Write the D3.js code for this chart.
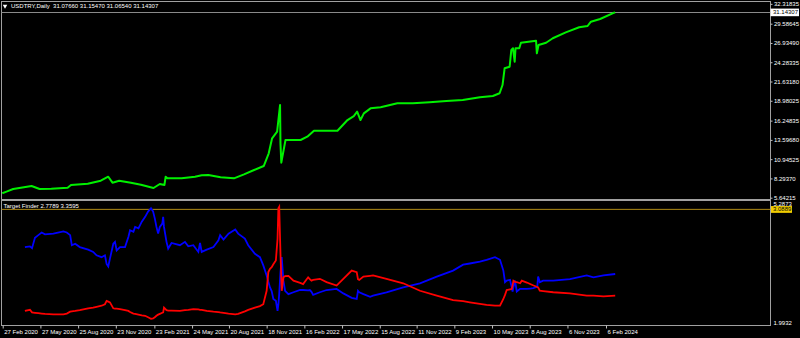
<!DOCTYPE html>
<html>
<head>
<meta charset="utf-8">
<script src="https://cdn.jsdelivr.net/npm/d3@7"></script>
<style>
  html, body { margin: 0; padding: 0; background: #000; }
  svg { display: block; }
  text { font-family: "Liberation Sans", Arial, sans-serif; }
</style>
</head>
<body>
<svg id="chart"></svg>
<script>
// USDTRY daily closes
const priceDates = ['2020-02-26','2020-03-07','2020-03-23','2020-05-06','2020-05-25','2020-06-22','2020-07-31','2020-08-08',
  '2020-09-17','2020-10-18','2020-11-05','2020-11-15','2020-12-01','2020-12-29','2021-01-22','2021-02-21','2021-03-08',
  '2021-03-19','2021-03-22','2021-03-26','2021-04-29','2021-05-31','2021-06-16','2021-07-02','2021-07-31','2021-09-01',
  '2021-09-25','2021-10-19','2021-11-11','2021-11-23','2021-12-01','2021-12-13','2021-12-20','2021-12-21','2021-12-23',
  '2022-01-02','2022-01-14','2022-02-07','2022-02-23','2022-03-11','2022-03-27','2022-05-06','2022-05-30','2022-06-14',
  '2022-06-22','2022-06-30','2022-07-08','2022-07-24','2022-08-17','2022-09-26','2022-11-02','2022-12-12','2023-01-21',
  '2023-03-01','2023-04-11','2023-05-12','2023-05-28','2023-06-04','2023-06-09','2023-06-21','2023-06-25','2023-06-29',
  '2023-07-03','2023-07-05','2023-07-14','2023-07-18','2023-08-23','2023-08-25','2023-08-29','2023-09-16','2023-10-02',
  '2023-11-02','2023-12-04','2023-12-24','2024-01-01','2024-01-23','2024-02-23','2024-02-28'];
const priceValues = [6.25,6.47,6.84,7.25,6.84,6.88,7.02,7.39,
  7.57,7.98,8.53,7.71,7.98,7.71,7.43,6.98,7.53,
  7.39,8.53,8.31,8.31,8.53,8.72,8.77,8.45,8.31,
  8.86,9.45,10.00,11.75,13.82,14.72,18.40,13.13,10.46,
  13.58,13.58,13.58,14.04,14.86,14.86,14.86,16.33,16.88,
  17.48,16.33,17.25,17.94,18.08,18.63,18.63,18.77,18.95,
  19.09,19.46,19.64,20.01,21.15,23.45,23.67,25.97,26.20,
  24.36,26.20,26.20,26.97,27.25,25.51,26.65,26.97,27.58,
  28.40,29.09,29.27,29.86,30.23,31.05,31.14307];
const priceTicks = [32.31835, 29.58645, 26.93490, 24.28335, 21.63180, 18.98025, 16.24835, 13.59680, 10.94525, 8.29370, 5.64215];
const lastPrice = 31.14307;
const priceHeader = 'USDTRY,Daily  31.07660 31.15470 31.06540 31.14307';

// Target Finder indicator (red and blue buffers)
const indDates = ['2020-04-20','2020-05-02','2020-05-07','2020-05-14','2020-05-22','2020-05-30','2020-06-07','2020-06-27',
  '2020-07-21','2020-07-29','2020-08-06','2020-08-10','2020-08-18','2020-08-29','2020-09-18','2020-09-30','2020-10-08',
  '2020-10-20','2020-10-28','2020-11-01','2020-11-05','2020-11-09','2020-11-17','2020-11-21','2020-11-25','2020-12-03',
  '2020-12-15','2020-12-23','2020-12-27','2021-01-04','2021-01-08','2021-01-16','2021-01-24','2021-02-01','2021-02-08',
  '2021-02-15','2021-02-20','2021-02-24','2021-02-28','2021-03-04','2021-03-08','2021-03-14','2021-03-16','2021-03-18',
  '2021-03-24','2021-03-28','2021-04-05','2021-04-25','2021-05-07','2021-05-15','2021-05-27','2021-06-08','2021-06-12',
  '2021-06-16','2021-06-28','2021-07-14','2021-07-26','2021-07-30','2021-08-07','2021-08-19','2021-09-04','2021-09-11',
  '2021-09-27','2021-10-05','2021-10-21','2021-11-02','2021-11-10','2021-11-18','2021-11-22','2021-11-26','2021-11-30',
  '2021-12-04','2021-12-10','2021-12-14','2021-12-16','2021-12-18','2021-12-21','2021-12-24','2021-12-28','2022-01-01',
  '2022-01-09','2022-01-21','2022-02-06','2022-02-13','2022-02-25','2022-03-01','2022-03-05','2022-03-09','2022-03-25',
  '2022-04-10','2022-05-04','2022-05-20','2022-06-09','2022-06-21','2022-06-24','2022-06-27','2022-07-07','2022-07-23',
  '2022-07-30','2022-08-31','2022-10-10','2022-11-19','2022-12-29','2023-02-06','2023-03-02','2023-03-18','2023-04-11',
  '2023-04-27','2023-05-17','2023-05-29','2023-06-06','2023-06-10','2023-06-14','2023-06-22','2023-06-26','2023-06-28',
  '2023-06-30','2023-07-04','2023-07-08','2023-07-16','2023-07-20','2023-08-01','2023-08-09','2023-08-17','2023-08-26',
  '2023-08-28','2023-09-01','2023-09-09','2023-10-03','2023-11-12','2023-12-22','2024-01-07','2024-01-31','2024-02-28'];
const blueValues = [4.08,4.10,4.05,4.33,4.40,4.47,4.42,4.44,
  4.50,4.47,4.40,4.13,4.17,4.08,4.01,3.95,3.86,
  3.81,3.86,3.63,3.56,3.77,4.17,4.22,3.99,4.08,
  4.08,4.35,4.53,4.49,4.62,4.58,4.76,4.89,5.03,
  5.12,5.03,4.85,4.62,4.44,4.62,4.71,4.89,4.62,
  4.22,4.04,4.19,4.13,4.22,4.10,4.13,3.95,4.19,
  3.95,4.01,4.08,4.26,4.40,4.28,4.44,4.55,4.44,
  4.31,4.13,3.90,3.81,3.59,3.32,3.15,3.00,2.90,
  2.69,2.64,2.37,2.55,2.82,3.40,3.81,3.18,2.91,
  2.82,2.87,2.93,2.93,2.92,2.93,2.88,2.80,2.87,
  2.93,2.96,2.84,2.72,2.69,2.91,2.87,2.82,2.75,
  2.78,2.87,3.00,3.11,3.29,3.45,3.61,3.64,3.69,
  3.74,3.81,3.74,3.45,3.14,3.18,3.20,3.00,2.89,
  3.00,3.18,2.89,2.96,2.96,2.96,2.97,2.98,3.02,
  3.29,3.14,3.18,3.18,3.22,3.32,3.27,3.32,3.3595];
const redValues = [2.37,2.40,2.33,2.32,2.31,2.30,2.29,2.28,
  2.28,2.30,2.35,2.36,2.37,2.39,2.44,2.46,2.48,
  2.51,2.55,2.64,2.62,2.60,2.44,2.43,2.43,2.42,
  2.39,2.37,2.34,2.30,2.29,2.27,2.25,2.24,2.20,
  2.16,2.17,2.20,2.24,2.27,2.29,2.32,2.33,2.46,
  2.39,2.38,2.38,2.37,2.39,2.40,2.42,2.41,2.40,
  2.40,2.37,2.35,2.34,2.33,2.32,2.30,2.28,2.29,
  2.36,2.40,2.46,2.50,2.55,2.91,3.41,3.50,3.54,
  3.62,3.72,4.30,5.12,5.16,3.90,2.91,3.27,3.30,
  3.31,3.18,3.12,3.09,3.27,3.22,3.18,3.20,3.23,
  3.14,3.05,3.23,3.45,3.41,3.22,3.20,3.29,3.31,
  3.32,3.23,3.11,2.91,2.78,2.66,2.63,2.60,2.56,
  2.53,2.51,2.51,2.69,2.80,2.93,2.95,2.96,3.05,
  3.18,3.15,3.14,3.11,3.18,3.13,3.09,3.05,3.01,
  3.00,2.91,2.90,2.87,2.84,2.78,2.78,2.76,2.7789];
const indTicks = [5.2873, 1.9932];
const markerLevel = 5.09;
const markerLabel = '3.0889';
const indHeader = 'Target Finder 2.7789 3.3595';

// bottom time axis
const dateTicks = ['2020-02-27','2020-05-27','2020-08-25','2020-11-23','2021-02-23','2021-05-24','2021-08-20','2021-11-18',
  '2022-02-16','2022-05-17','2022-08-15','2022-11-11','2023-02-09','2023-05-10','2023-08-08','2023-11-06','2024-02-06'];

class TerminalChart {
    constructor(_config) {
        this.config = {
            parentElement: _config.parentElement,
            containerWidth: _config.containerWidth || 800,
            containerHeight: _config.containerHeight || 338,
            left: 1.5, right: 770.5,
            mainTop: 1.5, mainBottom: 199.5,
            subTop: 200.5, subBottom: 325.5
        };
        this.initVis();
    }

    initVis() {
        let vis = this;
        let c = vis.config;
        const parse = d3.timeParse('%Y-%m-%d');

        vis.svg = d3.select(c.parentElement)
            .attr('width', c.containerWidth)
            .attr('height', c.containerHeight);

        vis.svg.append('rect')
            .attr('width', c.containerWidth).attr('height', c.containerHeight)
            .attr('fill', '#000');

        vis.price = priceDates.map((d, i) => ({ date: parse(d), value: priceValues[i] }));
        vis.blue = indDates.map((d, i) => ({ date: parse(d), value: blueValues[i] }));
        vis.red = indDates.map((d, i) => ({ date: parse(d), value: redValues[i] }));
        let ticks = dateTicks.map(parse);

        // scales
        vis.xScale = d3.scaleTime()
            .domain([ticks[0], ticks[ticks.length - 1]])
            .range([2.7, 606]);
        vis.yPrice = d3.scaleLinear()
            .domain([5.64215, 29.58645])
            .range([197.7, 23.7]);
        vis.yInd = d3.scaleLinear()
            .domain([1.9932, 5.2873])
            .range([325, 202]);

        // pane frames
        vis.svg.append('rect')
            .attr('x', c.left).attr('y', c.mainTop)
            .attr('width', c.right - c.left).attr('height', c.mainBottom - c.mainTop)
            .attr('fill', 'none').attr('stroke', '#a0a0a0');
        vis.svg.append('rect')
            .attr('x', c.left).attr('y', c.subTop)
            .attr('width', c.right - c.left).attr('height', c.subBottom - c.subTop)
            .attr('fill', 'none').attr('stroke', '#a0a0a0');

        // last price line
        vis.svg.append('line')
            .attr('x1', c.left).attr('x2', c.right)
            .attr('y1', Math.round(vis.yPrice(lastPrice)) + 0.5).attr('y2', Math.round(vis.yPrice(lastPrice)) + 0.5)
            .attr('stroke', '#8a8a8a');

        // marker line in sub window
        vis.svg.append('line')
            .attr('x1', c.left).attr('x2', c.right)
            .attr('y1', vis.yInd(markerLevel)).attr('y2', vis.yInd(markerLevel))
            .attr('stroke', '#b08a16');

        let priceLine = d3.line().x(d => vis.xScale(d.date)).y(d => vis.yPrice(d.value));
        let indLine = d3.line().x(d => vis.xScale(d.date)).y(d => vis.yInd(d.value));

        vis.svg.append('path')
            .datum(vis.price)
            .attr('d', priceLine)
            .attr('fill', 'none').attr('stroke', '#00f000')
            .attr('stroke-width', 2).attr('stroke-linejoin', 'round');

        vis.svg.append('path')
            .datum(vis.blue)
            .attr('d', indLine)
            .attr('fill', 'none').attr('stroke', '#0000ff').attr('stroke-width', 1.8);

        vis.svg.append('path')
            .datum(vis.red)
            .attr('d', indLine)
            .attr('fill', 'none').attr('stroke', '#ff0000').attr('stroke-width', 1.8);

        // right price axis
        let priceAxis = vis.svg.append('g')
            .attr('transform', `translate(${c.right},0)`)
            .call(d3.axisRight(vis.yPrice).tickValues(priceTicks).tickFormat(d => d.toFixed(5)).tickSize(2).tickPadding(1.5));
        vis.styleAxis(priceAxis);

        // current price tag
        let py = vis.yPrice(lastPrice);
        vis.svg.append('rect')
            .attr('x', c.right).attr('y', py - 3.8)
            .attr('width', 28.5).attr('height', 7.6)
            .attr('fill', '#fff');
        vis.svg.append('text')
            .attr('x', c.right + 2.5).attr('y', py).attr('dy', '0.34em')
            .attr('font-size', 6).attr('fill', '#000')
            .text(lastPrice.toFixed(5));

        // indicator axis
        let indAxis = vis.svg.append('g')
            .attr('transform', `translate(${c.right},0)`)
            .call(d3.axisRight(vis.yInd).tickValues(indTicks).tickFormat(d => d.toFixed(4)).tickSize(0).tickPadding(3));
        vis.styleAxis(indAxis);
        indAxis.selectAll('text').attr('dy', (d, i) => i === 0 ? '0.6em' : '-0.15em');

        let my = vis.yInd(markerLevel);
        vis.svg.append('rect')
            .attr('x', c.right + 0.5).attr('y', my - 3.3)
            .attr('width', 21).attr('height', 6.8)
            .attr('fill', '#f0cc00');
        vis.svg.append('text')
            .attr('x', c.right + 2.5).attr('y', my).attr('dy', '0.34em')
            .attr('font-size', 6).attr('fill', '#000')
            .text(markerLabel);

        // time axis
        let timeAxis = vis.svg.append('g')
            .attr('transform', `translate(0,${c.subBottom})`)
            .call(d3.axisBottom(vis.xScale).tickValues(ticks).tickFormat(d3.timeFormat('%-d %b %Y')).tickSize(3).tickPadding(1));
        vis.styleAxis(timeAxis);
        timeAxis.selectAll('text').attr('text-anchor', 'start').attr('x', 1);

        // pane headers
        vis.svg.append('path')
            .attr('d', d3.symbol(d3.symbolTriangle, 9)())
            .attr('transform', 'translate(5,6) rotate(180)')
            .attr('fill', '#fff');
        vis.svg.append('text')
            .attr('x', 11).attr('y', 6).attr('dy', '0.34em')
            .attr('font-size', 6).attr('fill', '#fff')
            .style('white-space', 'pre')
            .text(priceHeader);
        vis.svg.append('text')
            .attr('x', 3.5).attr('y', 205.5).attr('dy', '0.34em')
            .attr('font-size', 6).attr('fill', '#fff')
            .text(indHeader);
    }

    styleAxis(g) {
        g.select('.domain').remove();
        g.selectAll('line').attr('stroke', '#c0c0c0');
        g.selectAll('text')
            .attr('fill', '#fff')
            .attr('font-size', 6)
            .attr('font-family', '"Liberation Sans", Arial, sans-serif');
    }
}

new TerminalChart({ parentElement: '#chart' });
</script>
</body>
</html>
